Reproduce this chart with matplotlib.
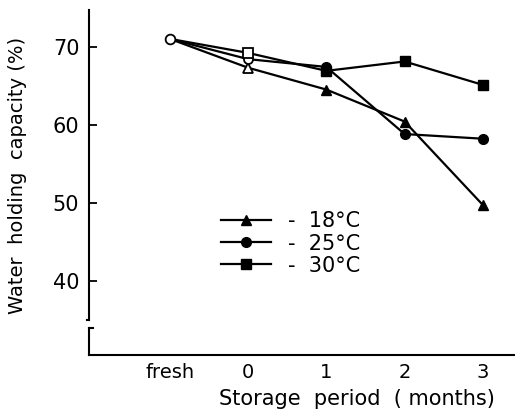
import matplotlib
matplotlib.use("Agg")
import matplotlib.pyplot as plt

# storage period positions: fresh, 0, 1, 2, 3 months
periods = [-1, 0, 1, 2, 3]
period_labels = ["fresh", "0", "1", "2", "3"]

fresh_value = 71.0
whc_18 = [67.3, 64.5, 60.4, 49.7]   # months 0..3
whc_25 = [68.4, 67.4, 58.8, 58.2]
whc_30 = [69.2, 66.9, 68.1, 65.1]

series = [
    ("18°C", whc_18, "^"),
    ("25°C", whc_25, "o"),
    ("30°C", whc_30, "s"),
]

fig = plt.figure(figsize=(5.15, 4.16), dpi=100)
ax = fig.add_axes([0.173, 0.147, 0.827, 0.829])

for label, vals, mk in series:
    ys = [fresh_value] + vals
    ax.plot(periods, ys, color="black", lw=1.6, zorder=2)
    # month 0 drawn open, stored months filled
    ax.plot(periods[1:2], vals[:1], ls="none", marker=mk, ms=6.5,
            mfc="white", mec="black", mew=1.3, zorder=3)
    ax.plot(periods[2:], vals[1:], ls="none", marker=mk, ms=7,
            color="black", zorder=3)
    # legend handle
    ax.plot([], [], color="black", lw=1.6, marker=mk, ms=7,
            markevery=[0, 1], label="-  " + label)

ax.plot(periods[:1], [fresh_value], ls="none", marker="o", ms=7,
        mfc="white", mec="black", mew=1.3, zorder=4)

ax.set_xlim(-2.03, 3.41)
ax.set_ylim(30.5, 74.7)

ax.set_xticks(periods)
ax.set_xticklabels(period_labels)
ax.set_yticks([40, 50, 60, 70])
ax.tick_params(axis="x", length=0, labelsize=14, pad=6)
ax.tick_params(axis="y", direction="in", length=6, width=1.3, labelsize=15, pad=7)

for s in ["top", "right"]:
    ax.spines[s].set_visible(False)
ax.spines["bottom"].set_linewidth(1.5)
ax.spines["left"].set_linewidth(1.5)
# broken y axis
ax.spines["left"].set_bounds(35.0, 74.7)
ax.plot([0, 0], [30.5, 34.0], color="black", lw=1.5,
        transform=ax.get_yaxis_transform(), clip_on=False)
ax.plot([-0.006, 0.0], [35.0, 35.0], color="black", lw=1.5,
        transform=ax.get_yaxis_transform(), clip_on=False)
ax.plot([0.0, 0.008], [34.0, 34.0], color="black", lw=1.5,
        transform=ax.get_yaxis_transform(), clip_on=False)

ax.set_xlabel("Storage  period  ( months)", fontsize=15)
ax.xaxis.set_label_coords(0.63, -0.10)
ax.set_ylabel("Water  holding  capacity (%)", fontsize=14)
ax.yaxis.set_label_coords(-0.145, 0.52)

ax.legend(loc="upper left", bbox_to_anchor=(0.29, 0.44), frameon=False,
          handlelength=2.4, handletextpad=0.8, labelspacing=0.1,
          fontsize=15, borderaxespad=0)

fig.savefig("out.png", dpi=100)
